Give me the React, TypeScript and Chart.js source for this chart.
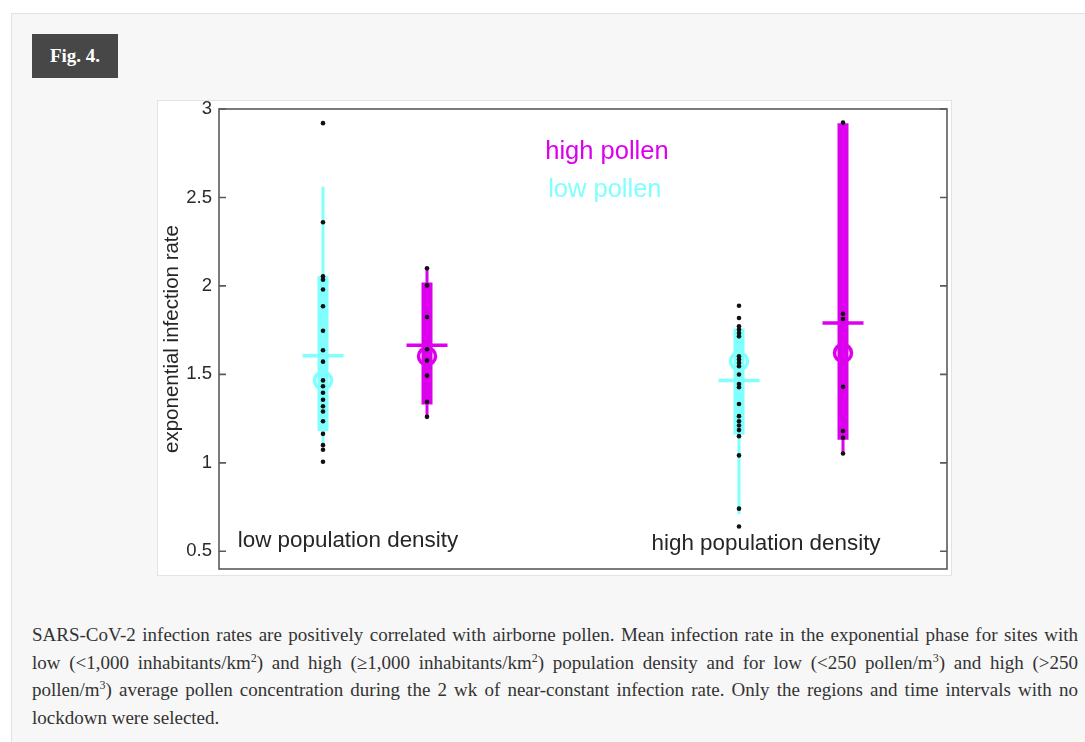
import React, { useEffect, useRef } from 'react';
import { Chart, registerables } from 'chart.js';

Chart.register(...registerables);

// ---- data ----
const groupNames = ['low density / low pollen', 'low density / high pollen', 'high density / low pollen', 'high density / high pollen'];
const groupX = [1, 2, 5, 6];
const whiskerLow = [1.11, 1.26, 0.71, 1.05];
const whiskerHigh = [2.56, 2.1, 1.76, 2.92];
const boxLow = [1.18, 1.33, 1.16, 1.13];
const boxHigh = [2.055, 2.02, 1.76, 2.92];
const meanValues = [1.606, 1.664, 1.465, 1.79];
const circleValues = [1.466, 1.602, 1.574, 1.621];

const dotsLowDensityLowPollen = [2.92, 2.36, 2.055, 2.035, 1.98, 1.885, 1.747, 1.636, 1.572, 1.466, 1.433, 1.396, 1.357, 1.32, 1.29, 1.235, 1.164, 1.1, 1.074, 1.006];
const dotsLowDensityHighPollen = [2.1, 2.003, 1.824, 1.642, 1.578, 1.493, 1.345, 1.26];
const dotsHighDensityLowPollen = [1.888, 1.819, 1.772, 1.753, 1.734, 1.715, 1.602, 1.584, 1.565, 1.546, 1.499, 1.446, 1.427, 1.333, 1.264, 1.235, 1.211, 1.185, 1.151, 1.042, 0.741, 0.64];
const dotsHighDensityHighPollen = [2.923, 1.843, 1.813, 1.43, 1.18, 1.142, 1.053];
const dotGroups = [dotsLowDensityLowPollen, dotsLowDensityHighPollen, dotsHighDensityLowPollen, dotsHighDensityHighPollen];

const yTicks = [0.5, 1, 1.5, 2, 2.5, 3];
const yMin = 0.4;
const yMax = 3;
const xMin = 0;
const xMax = 7;
const yTitle = 'exponential infection rate';

const labelTexts = ['high pollen', 'low pollen', 'low population density', 'high population density'];
const labelX = [3.73, 3.71, 1.24, 5.26];
const labelY = [2.757, 2.543, 0.562, 0.545];

// ---- styles ----
const CYAN = '#80ffff';
const MAGENTA = '#dd00ee';
const groupColors = [CYAN, MAGENTA, CYAN, MAGENTA];
const labelColors = [MAGENTA, CYAN, '#262626', '#262626'];
const labelFonts = ['25.5px "Liberation Sans", Arial, sans-serif', '25.5px "Liberation Sans", Arial, sans-serif', '22.4px "Liberation Sans", Arial, sans-serif', '22.4px "Liberation Sans", Arial, sans-serif'];

const framePlugin = {
  id: 'matlabFrame',
  afterDatasetsDraw(chart: any) {
    const { ctx, chartArea: a, scales } = chart;
    ctx.save();
    ctx.strokeStyle = '#5a5a5a';
    ctx.lineWidth = 1.6;
    ctx.strokeRect(a.left, a.top, a.right - a.left, a.bottom - a.top);
    ctx.beginPath();
    for (const v of yTicks) {
      const y = scales.y.getPixelForValue(v);
      ctx.moveTo(a.left, y);
      ctx.lineTo(a.left + 7, y);
      ctx.moveTo(a.right, y);
      ctx.lineTo(a.right - 7, y);
    }
    ctx.stroke();
    ctx.textAlign = 'center';
    ctx.textBaseline = 'middle';
    labelTexts.forEach((t, i) => {
      ctx.font = labelFonts[i];
      ctx.fillStyle = labelColors[i];
      ctx.fillText(t, scales.x.getPixelForValue(labelX[i]), scales.y.getPixelForValue(labelY[i]));
    });
    ctx.restore();
  },
};

function buildDatasets() {
  const ds: any[] = [];
  groupX.forEach((x, i) => {
    const c = groupColors[i];
    ds.push({
      label: groupNames[i] + ' points',
      data: dotGroups[i].map((v) => ({ x, y: v })),
      pointRadius: 2.3,
      pointBackgroundColor: '#111',
      pointBorderWidth: 0,
      showLine: false,
      order: 0,
    });
    ds.push({
      label: groupNames[i] + ' median',
      data: [{ x, y: circleValues[i] }],
      pointStyle: 'circle',
      pointRadius: 8.5,
      pointBackgroundColor: 'rgba(0,0,0,0)',
      pointBorderColor: c,
      pointBorderWidth: 3.5,
      showLine: false,
      order: 1,
    });
    ds.push({
      label: groupNames[i] + ' mean',
      data: [{ x, y: meanValues[i] }],
      pointStyle: 'line',
      pointRadius: 20.5,
      pointBorderColor: c,
      pointBorderWidth: 3.5,
      showLine: false,
      order: 2,
    });
    ds.push({
      label: groupNames[i] + ' box',
      data: [{ x, y: boxLow[i] }, { x, y: boxHigh[i] }],
      borderColor: c,
      borderWidth: 11,
      borderCapStyle: 'butt',
      pointRadius: 0,
      showLine: true,
      order: 3,
    });
    ds.push({
      label: groupNames[i] + ' range',
      data: [{ x, y: whiskerLow[i] }, { x, y: whiskerHigh[i] }],
      borderColor: c,
      borderWidth: 3,
      pointRadius: 0,
      showLine: true,
      order: 4,
    });
  });
  return ds;
}

function PollenChart() {
  const ref = useRef<HTMLCanvasElement | null>(null);
  useEffect(() => {
    if (!ref.current) return;
    const chart = new Chart(ref.current, {
      type: 'scatter',
      data: { datasets: buildDatasets() },
      options: {
        animation: false,
        responsive: true,
        maintainAspectRatio: false,
        layout: { autoPadding: false, padding: { left: 0, top: 8, right: 4, bottom: 6 } },
        plugins: { legend: { display: false }, tooltip: { enabled: false } },
        scales: {
          x: {
            type: 'linear',
            display: false,
            min: xMin,
            max: xMax,
            ticks: { display: false },
            grid: { display: false },
            afterFit: (axis: any) => {
              axis.height = 0;
              axis.paddingLeft = 0;
              axis.paddingRight = 0;
              axis.paddingTop = 0;
              axis.paddingBottom = 0;
            },
          },
          y: {
            type: 'linear',
            min: yMin,
            max: yMax,
            afterBuildTicks: (axis: any) => {
              axis.ticks = yTicks.map((v) => ({ value: v }));
            },
            afterFit: (axis: any) => {
              axis.width = 61;
              axis.paddingTop = 0;
              axis.paddingBottom = 0;
            },
            grid: { display: false, drawTicks: false },
            border: { display: false },
            ticks: {
              padding: 7,
              color: '#2a2a2a',
              font: { family: '"Liberation Sans", Arial, sans-serif', size: 18.5 },
              callback: (v: any) => String(v),
            },
            title: {
              display: true,
              text: yTitle,
              color: '#262626',
              font: { family: '"Liberation Sans", Arial, sans-serif', size: 20.5 },
              padding: { top: 2, bottom: 4 },
            },
          },
        },
      },
      plugins: [framePlugin],
    } as any);
    return () => chart.destroy();
  }, []);
  return <canvas ref={ref} />;
}

const captionLine: React.CSSProperties = {
  height: 27.5,
  lineHeight: '27.5px',
  textAlign: 'justify',
  textAlignLast: 'justify' as any,
};
const supStyle: React.CSSProperties = { fontSize: '12px', lineHeight: 0, verticalAlign: '7px' };

export default function App() {
  return (
    <div style={{ position: 'fixed', left: 0, top: 0, width: 1085, height: 742, background: '#fff', overflow: 'hidden' }}>
      <div style={{ position: 'absolute', left: 11, top: 13, width: 1090, height: 740, background: '#f7f7f7', border: '1px solid #e2e2e2' }} />
      <div
        style={{
          position: 'absolute', left: 32, top: 34, width: 86, height: 44, background: '#474747', color: '#fff',
          font: 'bold 19px "Liberation Serif", "Times New Roman", serif', display: 'flex', alignItems: 'center', justifyContent: 'center',
        }}
      >
        Fig. 4.
      </div>
      <div style={{ position: 'absolute', left: 157, top: 100, width: 795, height: 476, boxSizing: 'border-box', border: '1px solid #e3e3e3', background: '#fff' }}>
        <div style={{ position: 'relative', width: 793, height: 474 }}>
          <PollenChart />
        </div>
      </div>
      <div style={{ position: 'absolute', left: 32, top: 621, width: 1046, color: '#333', font: '19px "Liberation Serif", "Times New Roman", serif' }}>
        <div style={captionLine}>
          SARS-CoV-2 infection rates are positively correlated with airborne pollen. Mean infection rate in the exponential phase for sites with
        </div>
        <div style={captionLine}>
          low (&lt;1,000 inhabitants/km<sup style={supStyle}>2</sup>) and high (≥1,000 inhabitants/km<sup style={supStyle}>2</sup>) population density and for low (&lt;250 pollen/m<sup style={supStyle}>3</sup>) and high (&gt;250
        </div>
        <div style={captionLine}>
          pollen/m<sup style={supStyle}>3</sup>) average pollen concentration during the 2 wk of near-constant infection rate. Only the regions and time intervals with no
        </div>
        <div style={{ height: 27.5, lineHeight: '27.5px' }}>lockdown were selected.</div>
      </div>
    </div>
  );
}
